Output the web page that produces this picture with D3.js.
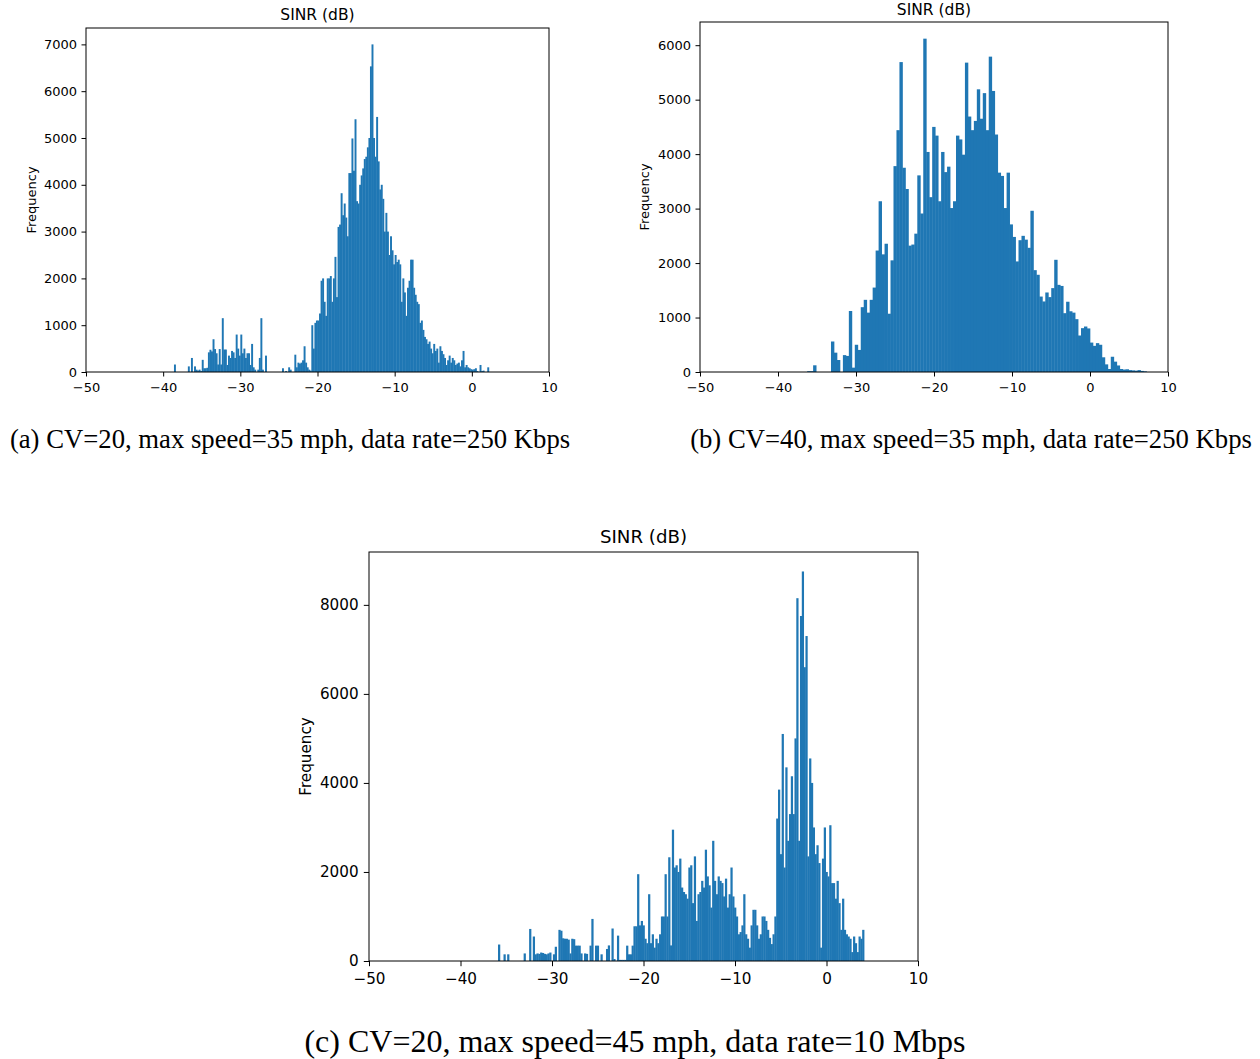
<!DOCTYPE html>
<html><head><meta charset="utf-8">
<script src="https://cdn.jsdelivr.net/npm/d3@7"></script>
<style>
body{margin:0;background:#fff}
svg{display:block}
.tick text, .lbl{font-family:"DejaVu Sans",sans-serif;fill:#000}
.cap{font-family:"Liberation Serif","Times New Roman",serif;fill:#000}
</style>
</head><body>
<svg id="chart" width="1260" height="1059"></svg>
<script>
// ---------- data ----------
const xTicks = [-50, -40, -30, -20, -10, 0, 10];
const yTicksA = [0, 1000, 2000, 3000, 4000, 5000, 6000, 7000];
const yTicksB = [0, 1000, 2000, 3000, 4000, 5000, 6000];
const yTicksC = [0, 2000, 4000, 6000, 8000];

const titleText = "SINR (dB)";
const yLabelText = "Frequency";
const captionA = "(a) CV=20, max speed=35 mph, data rate=250 Kbps";
const captionB = "(b) CV=40, max speed=35 mph, data rate=250 Kbps";
const captionC = "(c) CV=20, max speed=45 mph, data rate=10 Mbps";

// (a) histogram: first bin edge, bin width, counts
const binStartA = -39.0, binWidthA = 0.2;
const countsA = [
  0,0,160,0,0,        0,0,0,0,0,
  0,120,0,300,0,      120,50,30,50,20,
  260,80,80,90,420,   475,440,700,490,400,
  160,490,160,1150,480, 480,150,350,300,450,
  420,300,800,500,350, 800,400,500,300,400,
  400,150,600,100,50, 0,50,300,1150,50,
  0,350,0,0,0,        0,0,0,0,0,
  0,0,80,0,20,        0,100,50,0,0,
  370,100,200,180,200, 250,550,200,100,50,
  30,1000,500,1050,1100, 1100,1250,1950,2000,1500,
  1200,2000,2000,2050,1500, 2000,2460,1600,3100,3150,
  3820,3350,3600,3300,2900, 4250,4250,4990,4300,5400,
  3650,3600,4000,4200,4350, 4550,4600,4800,5000,6530,
  7000,5000,4600,5450,4500, 3900,4000,3700,3000,3400,
  3000,2500,2900,2600,2300, 2500,2350,2400,2300,1500,
  2000,1700,1200,1800,1950, 2400,2400,1800,1650,1500,
  1450,1050,1100,900,750, 700,600,650,500,400,
  600,450,500,200,550, 450,380,300,150,250,
  350,200,300,250,150, 180,200,120,250,450,
  100,150,100,80,60,  50,60,80,20,0,
  150,20,30,0,0,      100
];

// (b) histogram
const binStartB = -36.26, binWidthB = 0.3816;
const countsB = [
  15,15,123,0,0,0,0,0,560,355,
  220,0,310,295,1120,80,500,405,1190,1325,
  1090,1325,1550,2230,3135,2160,2355,1070,2050,3780,
  4440,5690,3750,3360,2320,2340,2540,3610,2910,6120,
  4040,3210,4500,4340,3135,4040,3670,3770,3010,3135,
  4340,4270,3990,5680,4690,4440,4610,5190,4650,5120,
  4440,5790,5160,4360,3660,3600,3010,3660,2710,2480,
  2030,2420,2500,2430,2280,2960,1870,1785,1385,1295,
  1460,1375,1540,2060,1600,1580,1080,1290,1115,1090,
  970,670,805,835,800,540,480,530,500,270,
  140,55,280,190,120,55,45,50,35,30,
  25,35,20,12
];

// (c) histogram
const binStartC = -35.9, binWidthC = 0.2;
const countsC = [
  370,0,0,150,0,150,0,0,0,0,
  0,0,0,0,170,0,0,720,0,550,
  150,170,160,190,180,160,150,170,190,0,
  150,320,0,700,680,510,500,500,480,170,
  500,490,345,345,345,170,0,170,160,0,
  345,945,0,345,345,0,150,0,0,270,
  350,0,730,45,0,570,25,25,25,25,
  345,150,150,345,780,780,1950,800,900,800,
  500,400,1500,400,600,300,500,400,600,1000,
  1000,1950,1000,2330,350,2950,2100,2150,2000,2300,
  1650,1550,1500,1400,2100,2150,1300,2350,900,1500,
  1550,1800,1650,2500,1900,1700,1200,2700,1800,1500,
  1900,1800,1750,1450,1850,1200,1500,2100,1450,1200,
  1000,600,650,800,1500,600,500,300,800,1150,
  1150,800,500,600,1000,1000,900,700,520,380,
  600,1000,3200,3850,2400,5100,2100,4350,2700,3300,
  4150,3300,5000,8150,2700,7750,8750,6600,7300,2350,
  4550,4000,3000,2400,2600,2200,300,2300,3000,2000,
  1900,3050,1750,1750,1400,1800,1300,700,1400,700,
  600,550,500,200,550,400,200,550,500,700
];

// ---------- drawing ----------
const svg = d3.select("#chart");
const barColor = "#1f77b4";

const panels = [
  {counts: countsA, start: binStartA, width: binWidthA, yTicks: yTicksA,
   caption: captionA,
   l: 86, r: 549, t: 28, b: 372, tickFs: 13, titleFs: 15.5, tickLen: 4.5, padX: 6.5, padY: 4.5,
   titleY: 20, ylabX: 36, capX: 290, capY: 448, capFs: 26.7},
  {counts: countsB, start: binStartB, width: binWidthB, yTicks: yTicksB,
   caption: captionB,
   l: 700, r: 1168, t: 22, b: 372, tickFs: 13, titleFs: 15.5, tickLen: 4.5, padX: 6.5, padY: 4.5,
   titleY: 15, ylabX: 649, capX: 971, capY: 448, capFs: 26.7},
  {counts: countsC, start: binStartC, width: binWidthC, yTicks: yTicksC,
   caption: captionC,
   l: 369, r: 918, t: 552, b: 961, tickFs: 15.2, titleFs: 18.2, tickLen: 5.2, padX: 7.5, padY: 5.2,
   titleY: 543, ylabX: 311, capX: 635, capY: 1052, capFs: 32}
];

panels.forEach(p => {
  const g = svg.append("g");
  const x = d3.scaleLinear().domain([-50, 10]).range([p.l, p.r]);
  const y = d3.scaleLinear().domain([0, d3.max(p.counts) * 1.05]).range([p.b, p.t]);

  g.append("g").selectAll("rect")
    .data(p.counts)
    .join("rect")
    .attr("x", (d, i) => x(p.start + i * p.width))
    .attr("width", (d, i) => x(p.start + (i + 1) * p.width) - x(p.start + i * p.width) + 0.4)
    .attr("y", d => y(d))
    .attr("height", d => y(0) - y(d))
    .attr("fill", barColor);

  const xa = g.append("g").attr("transform", `translate(0,${p.b})`)
    .call(d3.axisBottom(x).tickValues(xTicks).tickSize(p.tickLen).tickPadding(p.padX).tickFormat(d3.format("d")));
  const ya = g.append("g").attr("transform", `translate(${p.l},0)`)
    .call(d3.axisLeft(y).tickValues(p.yTicks).tickSize(p.tickLen).tickPadding(p.padY).tickFormat(d3.format("d")));
  [xa, ya].forEach(a => {
    a.select(".domain").remove();
    a.selectAll(".tick line").attr("stroke", "#000").attr("stroke-width", 1);
    a.selectAll(".tick text").style("font-size", p.tickFs + "px").attr("fill", "#000");
  });

  g.append("rect")
    .attr("x", p.l).attr("y", p.t)
    .attr("width", p.r - p.l).attr("height", p.b - p.t)
    .attr("fill", "none").attr("stroke", "#000").attr("stroke-width", 1);

  g.append("text").attr("class", "lbl")
    .attr("x", (p.l + p.r) / 2).attr("y", p.titleY)
    .attr("text-anchor", "middle").style("font-size", p.titleFs + "px")
    .text(titleText);

  g.append("text").attr("class", "lbl")
    .attr("transform", `translate(${p.ylabX},${(p.t + p.b) / 2}) rotate(-90)`)
    .attr("text-anchor", "middle").style("font-size", p.tickFs + "px")
    .text(yLabelText);

  svg.append("text").attr("class", "cap")
    .attr("x", p.capX).attr("y", p.capY)
    .attr("text-anchor", "middle").style("font-size", p.capFs + "px")
    .text(p.caption);
});
</script>
</body></html>
